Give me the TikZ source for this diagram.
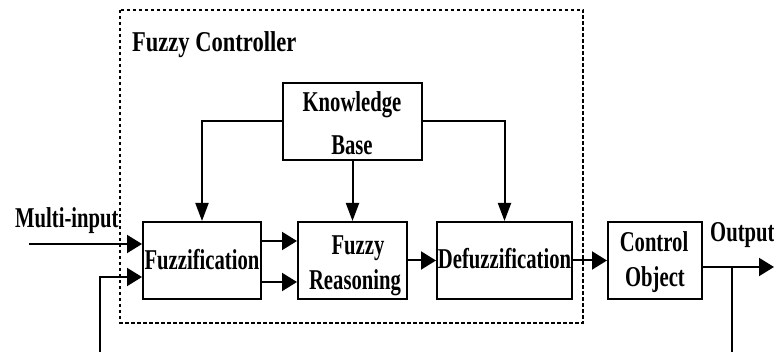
\documentclass[tikz,border=0pt]{standalone}
\usepackage{fontspec}
\usepackage{graphicx}
\setmainfont{Liberation Serif}[FakeStretch=0.72]
\usetikzlibrary{arrows.meta}

\tikzset{
  blk/.style={draw, line width=2pt, inner sep=0pt, minimum height=77pt},
  lbl/.style={inner sep=0pt, font=\fontsize{28.7}{34}\selectfont\bfseries},
  wire/.style={line width=2pt},
  arh/.style={wire, -{Triangle[length=15pt,width=18pt]}},
  arv/.style={wire, -{Triangle[length=18pt,width=13pt]}},
  frame/.style={line width=1.6pt, dash pattern=on 3.5pt off 2.5pt}
}

\begin{document}
\begin{tikzpicture}[x=1pt, y=-1pt]
  \useasboundingbox (0,0) rectangle (774,352);

  % controller boundary
  \draw[frame] (120,10) rectangle (583,323);
  \node[lbl, anchor=base west] (title) at (132,52) {\scalebox{1.09}[1]{Fuzzy Controller}};

  % blocks
  \node[blk, minimum width=139pt] (kb)     at (352.5,121.5) {};
  \node[blk, minimum width=118pt] (fuzz)   at (202,260.5) {};
  \node[blk, minimum width=109pt] (reas)   at (352.5,260.5) {};
  \node[blk, minimum width=135pt] (defuzz) at (504.5,260.5) {};
  \node[blk, minimum width=94pt]  (ctrl)   at (655,260.5) {};

  % block texts
  \node[lbl, anchor=base] (kbA)  at (352,111.7) {Knowledge};
  \node[lbl, anchor=base] (kbB)  at (352,155) {Base};
  \node[lbl, anchor=base] (fzT)  at (202,269.3) {Fuzzification};
  \node[lbl, anchor=base] (rsA)  at (358,255) {Fuzzy};
  \node[lbl, anchor=base] (rsB)  at (355,290) {Reasoning};
  \node[lbl, anchor=base] (dfT)  at (504.5,269) {Defuzzification};
  \node[lbl, anchor=base] (coA)  at (654,252) {Control};
  \node[lbl, anchor=base] (coB)  at (655,287) {Object};

  % outer labels
  \node[lbl, anchor=base west] (inL)  at (15,228) {Multi-input};
  \node[lbl, anchor=base west] (outL) at (710,242) {Output};

  % free ends
  \coordinate (in)  at (29,244);
  \coordinate (out) at (774,267);
  \coordinate (tap) at (732,267);
  \coordinate (fb)  at (100,277);

  % knowledge base to the three stages
  \draw[arv] (kb.west) -| (fuzz.north);
  \draw[arv] (kb.south) -- (reas.north);
  \draw[arv] (kb.east) -| (defuzz.north);

  % signal chain
  \draw[arh] (in) -- (in -| fuzz.west);
  \draw[arh] ([yshift=19.5pt]fuzz.east) -- ([yshift=19.5pt]fuzz.east -| reas.west);
  \draw[arh] ([yshift=-21.5pt]fuzz.east) -- ([yshift=-21.5pt]fuzz.east -| reas.west);
  \draw[arh] (reas.east) -- (defuzz.west);
  \draw[arh] (defuzz.east) -- (ctrl.west);
  \draw[arh] (out -| ctrl.east) -- (out);

  % feedback path, its lower run lying along the bottom edge
  \draw[arh] (tap) -- (tap |- 0,353) -| (fb) -- (fb -| fuzz.west);
\end{tikzpicture}
\end{document}
